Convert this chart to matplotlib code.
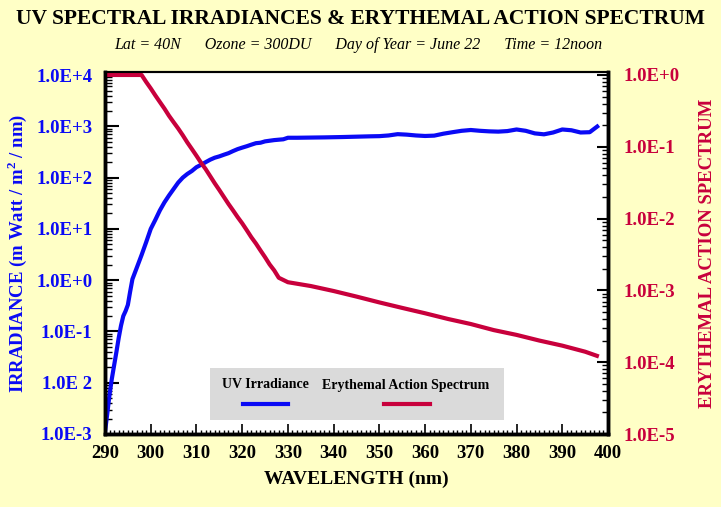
import matplotlib

matplotlib.use("Agg")
import matplotlib.pyplot as plt
from matplotlib.lines import Line2D
from matplotlib.patches import Rectangle
from matplotlib.ticker import FixedLocator, LogLocator, MultipleLocator, NullFormatter

plt.rcParams["mathtext.fontset"] = "custom"
plt.rcParams["mathtext.bf"] = "Liberation Serif:bold"

# irradiance (mW / m2 / nm)
irr_wl = [290, 290.5, 291, 291.5, 292, 292.5, 293, 293.5, 294, 294.5, 295, 295.5,
          296, 297, 298, 299, 300, 301, 302, 303, 304, 305, 306, 307, 308, 309,
          310, 311, 312, 313, 314, 315, 316, 317, 318, 319, 320, 321, 322, 323,
          324, 325, 326, 327, 328, 329, 330, 332, 335, 338, 340, 342, 345, 348,
          350, 352, 354, 356, 358, 360, 362, 364, 366, 368, 370, 372, 374, 376,
          378, 380, 382, 384, 386, 388, 390, 392, 394, 396, 397, 398]
irr_val = [0.0011, 0.0025, 0.006, 0.012, 0.022, 0.04, 0.075, 0.13, 0.2, 0.25, 0.33, 0.6,
           1.05, 1.8, 3.1, 5.5, 10, 15, 23, 33, 45, 60, 80, 100, 118, 135,
           160, 178, 200, 224, 245, 260, 280, 300, 330, 360, 385, 410, 440, 470,
           480, 510, 525, 540, 550, 560, 600, 600, 605, 610, 615, 620, 630, 640,
           645, 665, 705, 690, 665, 650, 660, 720, 770, 820, 850, 820, 800, 790,
           810, 870, 820, 730, 700, 760, 870, 840, 760, 770, 900, 1050]

# erythemal action spectrum
ery_wl = [290, 298, 299, 300, 301, 302, 303, 304, 305, 306, 307, 308, 309, 310,
          311, 312, 313, 314, 315, 316, 317, 318, 319, 320, 321, 322, 323, 324,
          325, 326, 327, 328, 330, 335, 340, 345, 350, 355, 360, 365, 370, 375,
          380, 385, 390, 395, 398]
ery_val = [1.0, 1.0, 0.8, 0.65, 0.52, 0.42, 0.34, 0.27, 0.22, 0.18, 0.145, 0.115,
           0.093, 0.075, 0.06, 0.049, 0.039, 0.031, 0.025, 0.02, 0.016, 0.013,
           0.0105, 0.0086, 0.0069, 0.0055, 0.0045, 0.0036, 0.0029, 0.0023, 0.0019,
           0.0015, 0.0013, 0.00115, 0.00098, 0.00082, 0.00068, 0.00057, 0.00048,
           0.0004, 0.00034, 0.00028, 0.00024, 0.0002, 0.00017, 0.00014, 0.00012]

left_ticks = [1e-3, 1e-2, 1e-1, 1e0, 1e1, 1e2, 1e3, 1e4]
left_labels = ["1.0E-3", "1.0E 2", "1.0E-1", "1.0E+0", "1.0E+1", "1.0E+2", "1.0E+3", "1.0E+4"]
right_ticks = [1e-5, 1e-4, 1e-3, 1e-2, 1e-1, 1e0]
right_labels = ["1.0E-5", "1.0E-4", "1.0E-3", "1.0E-2", "1.0E-1", "1.0E+0"]
x_ticks = list(range(290, 401, 10))

BLUE = "#0A0AF5"
RED = "#C8003C"
BG = "#FFFFC6"
SERIF = "Liberation Serif"

fig = plt.figure(figsize=(7.21, 5.07), dpi=100, facecolor=BG)
ax = fig.add_axes([105 / 721, 1 - 434 / 507, 503 / 721, 362 / 507])
ax.set_facecolor("white")
ax2 = ax.twinx()

ax.plot(irr_wl, irr_val, color=BLUE, lw=3.0, solid_capstyle="butt")
ax2.plot(ery_wl, ery_val, color=RED, lw=3.0, solid_capstyle="butt")

ax.set_xlim(290, 400)
ax.set_yscale("log")
ax.set_ylim(1e-3, 1.15e4)
ax2.set_yscale("log")
ax2.set_ylim(1e-5, 1.1)

ax.yaxis.set_major_locator(FixedLocator(left_ticks))
ax.set_yticklabels(left_labels)
ax.yaxis.set_minor_locator(LogLocator(base=10, subs=range(2, 10), numticks=100))
ax.yaxis.set_minor_formatter(NullFormatter())
ax2.yaxis.set_major_locator(FixedLocator(right_ticks))
ax2.set_yticklabels(right_labels)
ax2.yaxis.set_minor_locator(LogLocator(base=10, subs=range(2, 10), numticks=100))
ax2.yaxis.set_minor_formatter(NullFormatter())
ax.set_xticks(x_ticks)
ax.xaxis.set_minor_locator(MultipleLocator(1))

font = dict(family=SERIF, weight="bold", size=13.5)
for lab in ax.get_yticklabels():
    lab.set_fontproperties(font)
    lab.set_color(BLUE)
for lab in ax2.get_yticklabels():
    lab.set_fontproperties(font)
    lab.set_color(RED)
for lab in ax.get_xticklabels():
    lab.set_fontproperties(font)

ax.tick_params(axis="y", which="major", direction="in", length=10, width=1.5, pad=9, right=False)
ax.tick_params(axis="y", which="minor", direction="in", length=5, width=1, right=False)
ax.tick_params(axis="x", which="major", direction="in", length=7, width=1.2, pad=8, top=False)
ax.tick_params(axis="x", which="minor", direction="in", length=3, width=1, top=False)
ax2.tick_params(axis="y", which="major", direction="in", length=8, width=1.5, pad=11)
ax2.tick_params(axis="y", which="minor", direction="in", length=4, width=1)

for a in (ax, ax2):
    for side in ("left", "right", "bottom"):
        a.spines[side].set_linewidth(2.5)
    a.spines["top"].set_linewidth(1.5)

ax.set_xlabel("WAVELENGTH (nm)", fontfamily=SERIF, fontweight="bold", fontsize=14, labelpad=6)
ax.set_ylabel("IRRADIANCE (m Watt / m$^{\\mathbf{2}}$ / nm)", fontfamily=SERIF,
              fontweight="bold", fontsize=13.5, color=BLUE, labelpad=5)
ax2.set_ylabel("ERYTHEMAL ACTION SPECTRUM", fontfamily=SERIF, fontweight="bold",
               fontsize=13.5, color=RED, labelpad=14)

fig.text(0.5, 1 - 19 / 507, "UV SPECTRAL IRRADIANCES & ERYTHEMAL ACTION SPECTRUM",
         ha="center", va="center", family=SERIF, weight="bold", fontsize=15.5)
fig.text(0.497, 1 - 45 / 507,
         "Lat = 40N      Ozone = 300DU      Day of Year = June 22      Time = 12noon",
         ha="center", va="center", family=SERIF, style="italic", fontsize=11.5)

# legend box
fig.patches.append(Rectangle((210 / 721, 1 - 420 / 507), 294 / 721, 52 / 507,
                             transform=fig.transFigure, facecolor="#DADADA",
                             edgecolor="none", zorder=5))
fig.text(222 / 721, 1 - 385 / 507, "UV Irradiance", ha="left", va="center",
         family=SERIF, weight="bold", fontsize=10, zorder=6)
fig.text(322 / 721, 1 - 385 / 507, "Erythemal Action Spectrum", ha="left", va="center",
         family=SERIF, weight="bold", fontsize=10, zorder=6)
fig.lines.append(Line2D([243 / 721, 288 / 721], [1 - 404 / 507] * 2, transform=fig.transFigure,
                        color=BLUE, lw=3.0, zorder=6))
fig.lines.append(Line2D([384 / 721, 430 / 721], [1 - 404 / 507] * 2, transform=fig.transFigure,
                        color=RED, lw=3.0, zorder=6))

fig.savefig("out.png", dpi=100, facecolor=BG)
